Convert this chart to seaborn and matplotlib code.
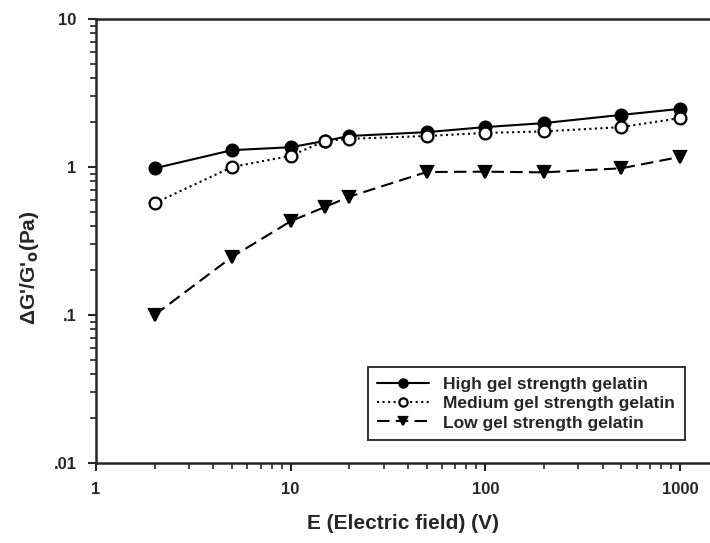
import numpy as np
import pandas as pd
import seaborn as sns
import matplotlib.pyplot as plt
from matplotlib.ticker import LogLocator, FuncFormatter, NullFormatter

# values
field = [2, 5, 10, 15, 20, 50, 100, 200, 500, 1000]
high_gel = [0.98, 1.30, 1.36, 1.50, 1.62, 1.72, 1.86, 1.98, 2.25, 2.47]
medium_gel = [0.57, 1.00, 1.19, 1.50, 1.55, 1.62, 1.70, 1.74, 1.86, 2.14]
low_gel = [0.10, 0.247, 0.43, 0.537, 0.63, 0.925, 0.93, 0.92, 0.98, 1.17]
series_names = ["High gel strength gelatin", "Medium gel strength gelatin",
                "Low gel strength gelatin"]

df = pd.DataFrame({
    "E": field * 3,
    "dG": high_gel + medium_gel + low_gel,
    "gel": [series_names[0]] * 10 + [series_names[1]] * 10 + [series_names[2]] * 10,
})

sns.set_style("ticks")
plt.rcParams["font.family"] = ["Liberation Sans", "DejaVu Sans"]
plt.rcParams["font.weight"] = "bold"

fig = plt.figure(figsize=(7.1, 5.43), dpi=100)
ax = fig.add_axes([96 / 710, 1 - 463 / 543, 1 - 96 / 710, (463 - 19) / 543])

styles = {
    series_names[0]: dict(marker="o", linestyle="-", markerfacecolor="black", markersize=8.5),
    series_names[1]: dict(marker="o", linestyle=":", markerfacecolor="white", markersize=8.5),
    series_names[2]: dict(marker="v", linestyle=(0, (6, 3)), markerfacecolor="black", markersize=8),
}
for name in series_names:
    sns.lineplot(data=df[df["gel"] == name], x="E", y="dG", ax=ax, color="black",
                 linewidth=1.5, markeredgecolor="black",
                 markeredgewidth=1.6, label=name, **styles[name])

ax.set_xscale("log")
ax.set_yscale("log")
ax.set_xlim(1, 1426)
ax.set_ylim(0.01, 10)

fmt = {1: "1", 10: "10", 100: "100", 1000: "1000", 0.1: ".1", 0.01: ".01"}
lab = FuncFormatter(lambda v, p: fmt.get(round(v, 3), ""))
ax.xaxis.set_major_locator(LogLocator(base=10))
ax.yaxis.set_major_locator(LogLocator(base=10))
ax.xaxis.set_minor_locator(LogLocator(base=10, subs=np.arange(2, 10)))
ax.yaxis.set_minor_locator(LogLocator(base=10, subs=np.arange(2, 10)))
ax.xaxis.set_major_formatter(lab)
ax.yaxis.set_major_formatter(lab)
ax.xaxis.set_minor_formatter(NullFormatter())
ax.yaxis.set_minor_formatter(NullFormatter())
ax.tick_params(which="major", length=6, width=1.5, labelsize=12, pad=8)
ax.tick_params(which="minor", length=4, width=1.2)

ax.spines["right"].set_visible(False)
for s in ["left", "bottom", "top"]:
    ax.spines[s].set_linewidth(1.8)

ax.set_xlabel("E (Electric field) (V)", fontsize=15, fontweight="bold", labelpad=12)
ax.set_ylabel("ΔG'/G'$_\\mathbf{o}$(Pa)", fontsize=15, fontweight="bold")
ax.yaxis.set_label_coords(-0.09, 0.44)

leg = ax.legend(loc="lower right", bbox_to_anchor=(0.973, 0.032), fontsize=12.5,
                markerscale=0.7, handlelength=3.0, frameon=True, fancybox=False,
                edgecolor="black", borderpad=0.55, labelspacing=0.25)
leg.get_frame().set_linewidth(1.4)
for t in leg.get_texts():
    t.set_fontweight("bold")

fig.savefig("out.png", dpi=100)
